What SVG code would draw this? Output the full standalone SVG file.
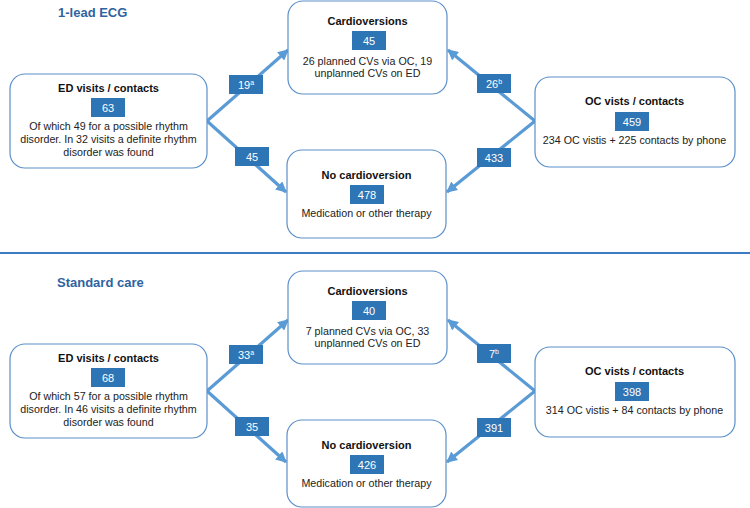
<svg xmlns="http://www.w3.org/2000/svg" width="750" height="508" viewBox="0 0 750 508">
<defs>
<style>
.node{fill:#fff;stroke:#5b8fc9;stroke-width:1.2}
.num{fill:#2e75b6}
.t{font-family:"Liberation Sans",Arial,sans-serif;font-size:10.7px;fill:#222;text-anchor:middle}
.h{font-family:"Liberation Sans",Arial,sans-serif;font-size:11px;font-weight:bold;fill:#111;text-anchor:middle}
.n{font-family:"Liberation Sans",Arial,sans-serif;font-size:11px;fill:#fff;text-anchor:middle}
.sec{font-family:"Liberation Sans",Arial,sans-serif;font-size:13px;font-weight:bold;fill:#2f63a0}
.arr{stroke:#5b9bd5;stroke-width:3.2;fill:none;marker-end:url(#ah)}
.sup{font-size:7px}
</style>
<marker id="ah" viewBox="0 0 10 10" refX="9" refY="5" markerWidth="3.4" markerHeight="3.4" orient="auto" markerUnits="strokeWidth">
<path d="M0,0 L10,5 L0,10 z" fill="#5b9bd5"/>
</marker>
</defs>
<rect width="750" height="508" fill="#fff"/>
<line x1="0" y1="253" x2="750" y2="253" stroke="#3b7cc4" stroke-width="2"/>

<g id="section1">
<text class="sec" x="58" y="17">1-lead ECG</text>
<g id="connectors1">
<line class="arr" x1="207" y1="121" x2="288" y2="50"/>
<line class="arr" x1="207" y1="121" x2="286" y2="192"/>
<line class="arr" x1="535" y1="121" x2="448" y2="50"/>
<line class="arr" x1="535" y1="121" x2="447" y2="192"/>
<rect class="num" x="229" y="75" width="34" height="19"/>
<text class="n" x="246" y="88.5">19<tspan class="sup" dy="-4">a</tspan></text>
<rect class="num" x="235" y="147" width="34" height="19"/>
<text class="n" x="252" y="160.5">45</text>
<rect class="num" x="477" y="74" width="34" height="19"/>
<text class="n" x="494" y="87.5">26<tspan class="sup" dy="-4">b</tspan></text>
<rect class="num" x="477" y="148" width="34" height="19"/>
<text class="n" x="494" y="161.5">433</text>
</g>
<g id="ed1">
<rect class="node" x="10" y="74" width="197" height="94" rx="15"/>
<text class="h" x="108.5" y="92">ED visits / contacts</text>
<rect class="num" x="91" y="98" width="34" height="19"/>
<text class="n" x="108" y="111.5">63</text>
<text class="t" x="108.5" y="130">Of which 49 for a possible rhythm</text>
<text class="t" x="108.5" y="143">disorder. In 32 visits a definite rhythm</text>
<text class="t" x="108.5" y="156">disorder was found</text>
</g>
<g id="cv1">
<rect class="node" x="288" y="1" width="159" height="93" rx="15"/>
<text class="h" x="367.5" y="25">Cardioversions</text>
<rect class="num" x="352" y="31" width="34" height="19"/>
<text class="n" x="369" y="44.5">45</text>
<text class="t" x="367.5" y="65">26 planned CVs via OC, 19</text>
<text class="t" x="367.5" y="77">unplanned CVs on ED</text>
</g>
<g id="nocv1">
<rect class="node" x="287" y="150" width="159" height="88" rx="15"/>
<text class="h" x="366.5" y="179">No cardioversion</text>
<rect class="num" x="350" y="185" width="34" height="19"/>
<text class="n" x="367" y="198.5">478</text>
<text class="t" x="366.5" y="217">Medication or other therapy</text>
</g>
<g id="oc1">
<rect class="node" x="535" y="77" width="200" height="90" rx="15"/>
<text class="h" x="634.5" y="105">OC vists / contacts</text>
<rect class="num" x="615" y="112" width="34" height="19"/>
<text class="n" x="632" y="125.5">459</text>
<text class="t" x="634.5" y="144">234 OC vistis + 225 contacts by phone</text>
</g>
</g>

<g id="section2" transform="translate(0,270)">
<text class="sec" x="57" y="17">Standard care</text>
<g id="connectors2">
<line class="arr" x1="207" y1="121" x2="288" y2="50"/>
<line class="arr" x1="207" y1="121" x2="286" y2="192"/>
<line class="arr" x1="535" y1="121" x2="448" y2="50"/>
<line class="arr" x1="535" y1="121" x2="447" y2="192"/>
<rect class="num" x="229" y="75" width="34" height="19"/>
<text class="n" x="246" y="88.5">33<tspan class="sup" dy="-4">a</tspan></text>
<rect class="num" x="235" y="147" width="34" height="19"/>
<text class="n" x="252" y="160.5">35</text>
<rect class="num" x="477" y="74" width="34" height="19"/>
<text class="n" x="494" y="87.5">7<tspan class="sup" dy="-4">b</tspan></text>
<rect class="num" x="477" y="148" width="34" height="19"/>
<text class="n" x="494" y="161.5">391</text>
</g>
<g id="ed2">
<rect class="node" x="10" y="74" width="197" height="94" rx="15"/>
<text class="h" x="108.5" y="92">ED visits / contacts</text>
<rect class="num" x="91" y="98" width="34" height="19"/>
<text class="n" x="108" y="111.5">68</text>
<text class="t" x="108.5" y="130">Of which 57 for a possible rhythm</text>
<text class="t" x="108.5" y="143">disorder. In 46 visits a definite rhythm</text>
<text class="t" x="108.5" y="156">disorder was found</text>
</g>
<g id="cv2">
<rect class="node" x="288" y="1" width="159" height="93" rx="15"/>
<text class="h" x="367.5" y="25">Cardioversions</text>
<rect class="num" x="352" y="31" width="34" height="19"/>
<text class="n" x="369" y="44.5">40</text>
<text class="t" x="367.5" y="65">7 planned CVs via OC, 33</text>
<text class="t" x="367.5" y="77">unplanned CVs on ED</text>
</g>
<g id="nocv2">
<rect class="node" x="287" y="150" width="159" height="87" rx="15"/>
<text class="h" x="366.5" y="179">No cardioversion</text>
<rect class="num" x="350" y="185" width="34" height="19"/>
<text class="n" x="367" y="198.5">426</text>
<text class="t" x="366.5" y="217">Medication or other therapy</text>
</g>
<g id="oc2">
<rect class="node" x="535" y="77" width="200" height="90" rx="15"/>
<text class="h" x="634.5" y="105">OC vists / contacts</text>
<rect class="num" x="615" y="112" width="34" height="19"/>
<text class="n" x="632" y="125.5">398</text>
<text class="t" x="634.5" y="144">314 OC vistis + 84 contacts by phone</text>
</g>
</g>
</svg>
